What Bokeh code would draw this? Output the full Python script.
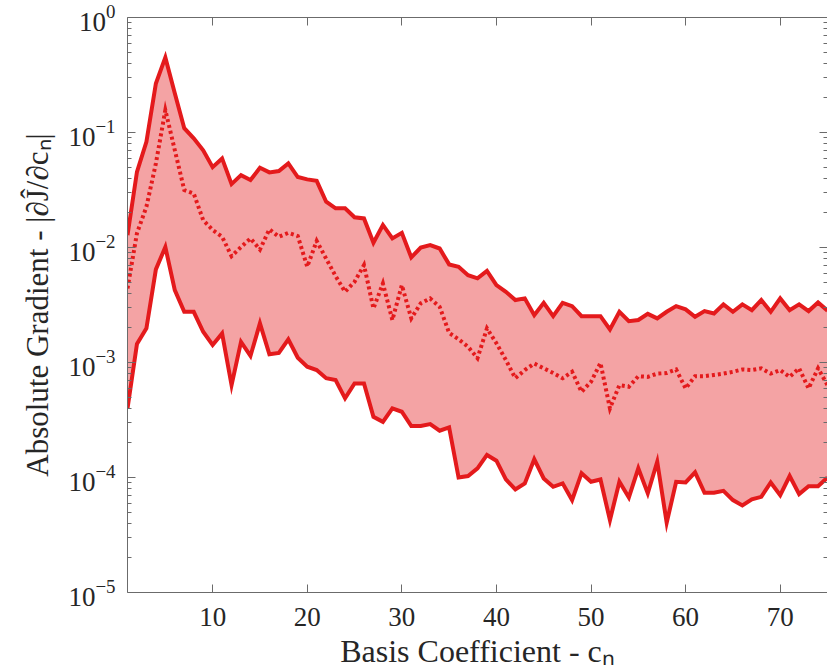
import numpy as np
from bokeh.plotting import figure
from bokeh.models import LogAxis, LinearAxis, FixedTicker, Range1d, CustomJSTickFormatter
from bokeh.embed import file_html
from bokeh.resources import INLINE

coeff = list(range(1, 76))

upper = [0.0128, 0.0455, 0.083, 0.267, 0.45, 0.219, 0.109, 0.089, 0.070, 0.050,
         0.0595, 0.0356, 0.0426, 0.0386, 0.0493, 0.045, 0.0462, 0.0539, 0.041, 0.0391,
         0.038, 0.025, 0.0219, 0.0219, 0.0183, 0.0179, 0.011, 0.0157, 0.012, 0.0134,
         0.0082, 0.0100, 0.0105, 0.0098, 0.00713, 0.0068, 0.00575, 0.00539, 0.00627, 0.00471,
         0.00412, 0.00349, 0.00361, 0.00258, 0.0033, 0.00253, 0.0033, 0.00309, 0.00253, 0.00253,
         0.00253, 0.00194, 0.00276, 0.00229, 0.00234, 0.00265, 0.00242, 0.00276, 0.00309, 0.0029,
         0.0025, 0.0028, 0.00267, 0.0032, 0.00276, 0.0032, 0.00285, 0.00349, 0.00276, 0.00361,
         0.00285, 0.0032, 0.0028, 0.00333, 0.00282]

median = [0.0044, 0.0133, 0.0226, 0.0538, 0.1566, 0.0703, 0.0316, 0.0295, 0.0173, 0.0142,
          0.0124, 0.0084, 0.0101, 0.012, 0.0096, 0.0144, 0.0124, 0.0134, 0.0126, 0.0068,
          0.0114, 0.0080, 0.00564, 0.00412, 0.00503, 0.00703, 0.00295, 0.00487, 0.00234, 0.00471,
          0.00242, 0.00327, 0.00361, 0.00305, 0.00181, 0.00159, 0.00137, 0.00109, 0.00198, 0.00147,
          0.00105, 0.00073, 0.00086, 0.00098, 0.00089, 0.00081, 0.00073, 0.00083, 0.000556, 0.000679,
          0.00099, 0.000399, 0.000636, 0.000615, 0.00076, 0.00075, 0.0008, 0.00081, 0.00087, 0.000595,
          0.00076, 0.00076, 0.00078, 0.0008, 0.00083, 0.00087, 0.00086, 0.00089, 0.0008, 0.00086,
          0.00075, 0.00089, 0.000595, 0.00089, 0.000636]

lower = [0.000399, 0.00145, 0.00198, 0.00645, 0.0101, 0.00426, 0.00276, 0.00276, 0.00185, 0.00142,
         0.00179, 0.000636, 0.00151, 0.00114, 0.00219, 0.00118, 0.00121, 0.00159, 0.0011, 0.00092,
         0.00086, 0.00073, 0.000703, 0.000488, 0.000658, 0.000658, 0.000337, 0.000305, 0.000399, 0.000373,
         0.00028, 0.00028, 0.000291, 0.000255, 0.000273, 0.0001, 0.000103, 0.00012, 0.000157, 0.00014,
         0.0000962, 0.0000788, 0.0000889, 0.000144, 0.0000982, 0.000083, 0.0000889, 0.0000636, 0.000109, 0.0000918,
         0.0000962, 0.0000426, 0.0000918, 0.0000671, 0.00012, 0.0000728, 0.000137, 0.0000404, 0.0000918, 0.0000906,
         0.000111, 0.0000736, 0.0000736, 0.0000766, 0.0000636, 0.0000571, 0.0000645, 0.0000679, 0.0000906, 0.0000703,
         0.000103, 0.0000717, 0.0000841, 0.0000841, 0.0001]

x_ticks = [10, 20, 30, 40, 50, 60, 70]
y_ticks = [1e-5, 1e-4, 1e-3, 1e-2, 1e-1, 1e0]
y_minor = [k * 10.0 ** e for e in range(-5, 0) for k in range(2, 10)]

RED = "#e41a1c"
FONT = "Liberation Serif"
AXC = "#6b6b6b"
TXT = "#262626"

p = figure(frame_width=700, frame_height=575,
           x_range=Range1d(1, 75), y_range=Range1d(1e-5, 1.0),
           y_axis_type="log", output_backend="svg", toolbar_location=None,
           min_border_left=127, min_border_top=17, min_border_right=0, min_border_bottom=72)

p.varea(x=coeff, y1=lower, y2=upper, fill_color=RED, fill_alpha=0.4)
p.line(coeff, upper, line_color=RED, line_width=4, line_join="miter")
p.line(coeff, lower, line_color=RED, line_width=4, line_join="miter")
p.line(coeff, median, line_color=RED, line_width=4, line_dash="3 3", line_join="miter")

p.grid.visible = False
p.outline_line_color = None

def style(ax):
    ax.axis_line_color = AXC
    ax.axis_line_width = 1
    ax.major_tick_line_color = AXC
    ax.minor_tick_line_color = AXC
    ax.major_tick_in = 8
    ax.major_tick_out = 0
    ax.minor_tick_in = 4
    ax.minor_tick_out = 0
    ax.major_label_text_font = FONT
    ax.major_label_text_color = TXT
    ax.major_label_text_font_size = "27px"
    ax.axis_label_text_font = FONT
    ax.axis_label_text_font_style = "normal"
    ax.axis_label_text_color = TXT
    ax.axis_label_text_font_size = "31px"

p.xaxis.ticker = FixedTicker(ticks=x_ticks, minor_ticks=[])
p.yaxis.ticker = FixedTicker(ticks=y_ticks, minor_ticks=y_minor)
style(p.xaxis[0])
style(p.yaxis[0])
p.xaxis.major_label_standoff = 15
p.yaxis.major_label_standoff = 12
p.xaxis.axis_label = "Basis Coefficient - c\u2099"
p.yaxis.axis_label = "Absolute Gradient - |\u2202\u0134/\u2202c\u2099|"
p.xaxis.axis_label_text_font_size = "32px"
p.xaxis.axis_label_standoff = 4
p.yaxis.axis_label_standoff = 10

top = LinearAxis(ticker=FixedTicker(ticks=x_ticks, minor_ticks=[]),
                 formatter=CustomJSTickFormatter(code="return '';"))
style(top)
top.major_label_standoff = 0
top.major_label_text_font_size = "1px"
p.add_layout(top, "above")
right = LogAxis(ticker=FixedTicker(ticks=y_ticks, minor_ticks=y_minor),
                formatter=CustomJSTickFormatter(code="return '';"))
style(right)
right.major_label_standoff = 0
right.major_label_text_font_size = "1px"
p.add_layout(right, "right")

open("out.html", "w").write(file_html(p, INLINE))
